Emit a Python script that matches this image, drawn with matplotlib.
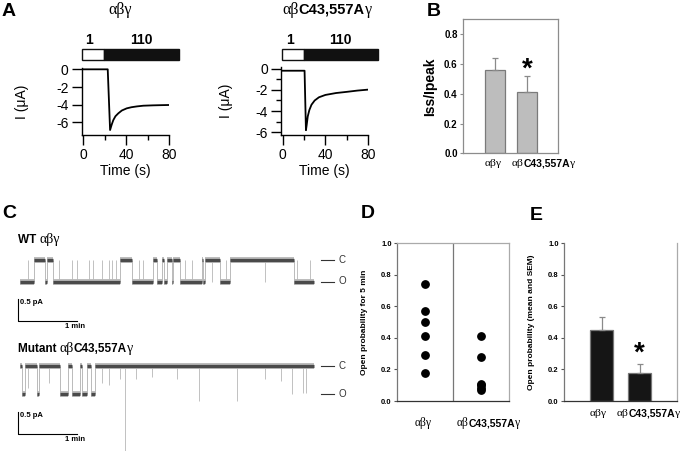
import matplotlib
matplotlib.use('Agg')
import matplotlib.pyplot as plt
import matplotlib.transforms as mtransforms
from matplotlib.patches import Rectangle
from matplotlib.ticker import FormatStrFormatter
import numpy as np

W, H, DPI = 685, 451, 100
SANS = ['Liberation Sans', 'DejaVu Sans']
SERIF = ['Liberation Serif', 'DejaVu Serif']
plt.rcParams['font.family'] = SANS
plt.rcParams['axes.unicode_minus'] = False

# ---------------- data ----------------
# Panel A: whole-cell current traces (time s, current uA)
wt_time = [0, 10, 20, 22.8, 25, 26.5, 28, 30, 32.7, 36, 40.5, 45, 50, 56, 65, 72, 80]
wt_current = [0, 0, 0, 0, -6.86, -6.25, -5.74, -5.3, -4.97, -4.65, -4.41, -4.28, -4.19, -4.11, -4.07, -4.05, -4.03]
mut_time = [0, 10, 20.5, 21.8, 22.5, 23.5, 25, 27, 30, 34, 40, 50, 60, 70, 80]
mut_current = [-0.2, -0.2, -0.2, -5.8, -5.3, -4.5, -3.9, -3.4, -3.0, -2.7, -2.48, -2.3, -2.19, -2.07, -1.98]
solution_labels = ["1", "110"]
wt_solution_edges = [-1.5, 19, 89]
mut_solution_edges = [-0.9, 20, 89]

# Panel B
group_labels = ["αβγ", "αβC43,557Aγ"]
iss_ratio_mean = [0.56, 0.415]
iss_ratio_sem = [0.08, 0.105]

# Panel C: single-channel records (state edges in s, 1 = open)
wt_unitary = -0.5
wt_edges = [0, 14, 25.5, 28, 34, 102, 114.5, 136, 140, 144.5, 146.5, 150, 155, 156.5,
            163, 185.5, 187, 189, 204, 214, 279.5, 300]
wt_open = [1, 0, 1, 0, 1, 0, 1, 0, 1, 0, 1, 0, 1, 0, 1, 0, 1, 0, 1, 0, 1]
wt_flicker_times = [8, 40, 53, 58, 70, 75, 84, 91, 94, 98, 121, 126, 168, 176, 196, 210, 250, 283, 296]
mut_unitary = -0.65
mut_edges = [0, 2, 5, 17.3, 19, 41, 49.3, 52.8, 61.2, 63.3, 68, 72, 76.5, 300]
mut_open = [0, 1, 0, 1, 0, 1, 0, 1, 0, 1, 0, 1, 0]
mut_event_times = [8, 30, 84, 91, 102, 107, 118, 135, 160, 183, 221, 250, 266, 278, 288.5, 292]
mut_event_depth = [-0.5, -0.4, -0.4, -0.45, -0.3, -2.1, -0.3, -0.25, -0.3, -0.82, -0.82, -0.3, -0.35, -0.66, -0.62, -0.62]

# Panel D: open probability per patch
wt_popen = [0.74, 0.57, 0.50, 0.41, 0.29, 0.18]
mut_popen = [0.41, 0.28, 0.11, 0.10, 0.085, 0.07]

# Panel E: mean and SEM
popen_mean = [0.45, 0.175]
popen_sem = [0.08, 0.058]

# ---------------- helpers ----------------
fig = plt.figure(figsize=(W / DPI, H / DPI), dpi=DPI)
fig.patch.set_facecolor('white')
renderer = fig.canvas.get_renderer()


def add_ax(x0, y0, x1, y1):
    return fig.add_axes([x0 / W, 1 - y1 / H, (x1 - x0) / W, (y1 - y0) / H])


def runs(s):
    out = []
    for c in s:
        g = 0x370 <= ord(c) <= 0x3FF
        if out and out[-1][1] == g:
            out[-1][0] += c
        else:
            out.append([c, g])
    return out


def mixed(x, y, s, size, ha='center', gsize=None):
    pieces = []
    for txt, g in runs(s):
        if g:
            kw = dict(family=SERIF, fontsize=gsize or size * 1.1, fontweight='normal')
        else:
            kw = dict(family=SANS, fontsize=size, fontweight='bold')
        pieces.append((txt, kw))
    widths = []
    for txt, kw in pieces:
        t = fig.text(0, 0, txt, **kw)
        widths.append(t.get_window_extent(renderer).width)
        t.remove()
    x0 = x - sum(widths) / 2 if ha == 'center' else x
    for (txt, kw), w in zip(pieces, widths):
        fig.text(x0 / W, 1 - y / H, txt, ha='left', va='baseline', color='black', **kw)
        x0 += w


def panel_letter(x, y, s):
    fig.text(x / W, 1 - y / H, s, fontsize=14, fontweight='bold', ha='center', va='center')


# ---------------- Panel A ----------------
def trace_panel(box, ylim, t, I, edges, title, title_x, ylab_x, minor_y):
    x0, y0, x1, y1 = box
    ax = add_ax(x0, y0, x1, y1)
    ax.plot(t, I, color='black', lw=1.3, solid_joinstyle='round')
    ax.set_xlim(-1.5, 80)
    ax.set_ylim(*ylim)
    for s in ['top', 'right']:
        ax.spines[s].set_visible(False)
    for s in ['left', 'bottom']:
        ax.spines[s].set_linewidth(1.0)
    ax.set_xticks([0, 40, 80])
    ax.set_xticks([20, 60], minor=True)
    ax.set_yticks([0, -2, -4, -6])
    if minor_y:
        ax.set_yticks([-1, -3, -5], minor=True)
    ax.tick_params(which='major', direction='out', length=7, width=1.0, labelsize=10, pad=2.5)
    ax.tick_params(which='minor', direction='out', length=3.5, width=1.0)
    ax.set_xlabel('Time (s)', fontsize=10, labelpad=1)
    ax.set_ylabel('I (μA)', fontsize=10)
    ax.yaxis.set_label_coords(ylab_x, 0.5)
    trans = mtransforms.blended_transform_factory(ax.transData, ax.transAxes)
    hb = y1 - y0
    yb0 = (y1 - 60) / hb
    yb1 = (y1 - 49.3) / hb
    cols = ['white', '#111111']
    for i, lab in enumerate(solution_labels):
        ax.add_patch(Rectangle((edges[i], yb0), edges[i + 1] - edges[i], yb1 - yb0,
                               transform=trans, facecolor=cols[i], edgecolor='#111111',
                               lw=1.0, clip_on=False))
        ax.text((edges[i] + edges[i + 1]) / 2 - (3 if i == 0 else 0), (y1 - 40) / hb, lab,
                transform=trans, ha='center', va='center', fontsize=10, fontweight='bold')
    mixed(title_x, 14, title, 10.5, gsize=11.5)
    return ax


trace_panel((81.7, 68, 169, 135), (-7.42, 0.15), wt_time, wt_current, wt_solution_edges,
            group_labels[0], 120, -0.6, False)
trace_panel((281.1, 67, 368, 135), (-6.25, 0.15), mut_time, mut_current, mut_solution_edges,
            group_labels[1], 327, -0.55, True)
panel_letter(9, 12, 'A')

# ---------------- Panel B ----------------
def cat_labels(ax, dxs, ybase, size):
    for i, lab in enumerate(group_labels):
        px = ax.transData.transform((i, 0))[0]
        mixed(px + dxs[i], ybase, lab, size, gsize=size * 1.1)


axB = add_ax(463.3, 19.3, 558.3, 153.3)
xb = np.arange(len(group_labels))
axB.bar(xb, iss_ratio_mean, width=0.61, color='#bdbdbd', edgecolor='#7a7a7a', lw=0.9, zorder=2)
axB.errorbar(xb, iss_ratio_mean, yerr=[np.zeros(len(xb)), iss_ratio_sem], fmt='none',
             ecolor='#8a8a8a', elinewidth=0.9, capsize=2, capthick=0.9, zorder=3)
axB.set_xlim(-0.98, 1.97)
axB.set_ylim(0, 0.9)
axB.set_xticks([])
axB.set_yticks([0, 0.2, 0.4, 0.6, 0.8])
axB.yaxis.set_major_formatter(FormatStrFormatter('%.1f'))
for s in axB.spines.values():
    s.set_color('#8c8c8c')
    s.set_linewidth(0.9)
axB.tick_params(axis='y', direction='out', length=2.5, width=0.8, color='#8c8c8c', labelsize=7, pad=1.5)
for lbl in axB.get_yticklabels():
    lbl.set_fontweight('bold')
axB.set_ylabel('Iss/Ipeak', fontsize=10, fontweight='bold')
axB.yaxis.set_label_coords(-0.277, 0.5)
axB.text(1, 0.56, '*', ha='center', va='center', fontsize=20, fontweight='bold')
cat_labels(axB, [-2, 16], 166, 7.5)
panel_letter(434, 12, 'B')

# ---------------- Panel C ----------------
def channel_panel(box, xlim, ylim, edges, states, amp, ev_t, ev_d, sb_top):
    ax = add_ax(*box)
    ax.set_xlim(*xlim)
    ax.set_ylim(*ylim)
    ax.axis('off')
    levels = [amp if s else 0.0 for s in states]
    ax.vlines(edges[1:-1], amp, 0, color='#a0a0a0', lw=0.5)
    ax.vlines(ev_t, ev_d, 0, color='#a8a8a8', lw=0.5)
    ax.hlines(levels, edges[:-1], edges[1:], color='#b8b8b8', lw=4.2)
    ax.hlines(levels, edges[:-1], edges[1:], color='#4a4a4a', lw=2.3)
    for lv, name in [(0, 'C'), (amp, 'O')]:
        ax.plot([307, 320.5], [lv, lv], color='#333333', lw=0.8)
        ax.text(325, lv, name, ha='left', va='center', fontsize=7, color='#333333')
    ax.plot([-1.7, -1.7, 58.5], [sb_top, sb_top - 0.5, sb_top - 0.5], color='black', lw=0.8)
    ax.text(0.5, sb_top - 0.07, '0.5 pA', ha='left', va='center', fontsize=5.5, fontweight='bold')
    ax.text(56, sb_top - 0.55, '1 min', ha='center', va='top', fontsize=5.5, fontweight='bold')
    return ax


xlimC = (-20 / 0.98, 340 / 0.98)
channel_panel((0, 245, 360, 335), xlimC, (-75 / 43, 15 / 43), wt_edges, wt_open, wt_unitary,
              wt_flicker_times, wt_unitary, -0.907)
channel_panel((0, 355, 360, 451), xlimC, (-85 / 43, 11 / 43), mut_edges, mut_open, mut_unitary,
              mut_event_times, mut_event_depth, -1.077)
mixed(18, 243, "WT " + group_labels[0], 8.5, ha='left', gsize=10)
mixed(18, 352, "Mutant " + group_labels[1], 8.5, ha='left', gsize=10)
panel_letter(9, 213, 'C')

# ---------------- Panel D ----------------
def po_axes(box, ylab, ylab_x, top):
    ax = add_ax(*box)
    ax.set_ylim(0, 1)
    ax.spines['top'].set_visible(top)
    ax.spines['top'].set_color('#aaaaaa')
    ax.spines['left'].set_color('#777777')
    ax.spines['bottom'].set_color('#333333')
    ax.spines['right'].set_color('#aaaaaa')
    for s in ax.spines.values():
        s.set_linewidth(0.9)
    ax.set_xticks([])
    ax.set_yticks([0, 0.2, 0.4, 0.6, 0.8, 1.0])
    ax.yaxis.set_major_formatter(FormatStrFormatter('%.1f'))
    ax.tick_params(axis='y', direction='out', length=2.5, width=0.8, color='#555555', labelsize=5.5, pad=1.5)
    for lbl in ax.get_yticklabels():
        lbl.set_fontweight('bold')
    ax.set_ylabel(ylab, fontsize=6, fontweight='bold')
    ax.yaxis.set_label_coords(ylab_x, 0.5)
    return ax


axD = po_axes((397.3, 243.3, 509.3, 401), 'Open probability for 5 min', -0.262, True)
axD.set_xlim(0, 2)
axD.axvline(1, color='#777777', lw=0.9)
axD.plot([0.5] * len(wt_popen), wt_popen, 'o', color='black', ms=5.3)
axD.plot([1.5] * len(mut_popen), mut_popen, 'o', color='black', ms=5.3)
for i, lab in enumerate(group_labels):
    px = axD.transData.transform((0.5 + i, 0))[0]
    mixed(px + [-2, 7][i], 426, lab, 7.5, gsize=8.3)
panel_letter(368, 214, 'D')

# ---------------- Panel E ----------------
axE = po_axes((564.3, 243.3, 676.7, 401), 'Open probability (mean and SEM)', -0.26, False)
xe = np.arange(len(group_labels))
axE.bar(xe, popen_mean, width=0.6, color='#151515', edgecolor='#777777', lw=0.9, zorder=2)
axE.errorbar(xe, popen_mean, yerr=[np.zeros(len(xe)), popen_sem], fmt='none',
             ecolor='#8a8a8a', elinewidth=0.9, capsize=2, capthick=0.9, zorder=3)
axE.set_xlim(-0.98, 1.97)
axE.text(1, 0.3, '*', ha='center', va='center', fontsize=20, fontweight='bold')
cat_labels(axE, [-4, 9], 416.5, 7.5)
panel_letter(536, 215, 'E')

fig.savefig('out.png', dpi=DPI, facecolor='white')
